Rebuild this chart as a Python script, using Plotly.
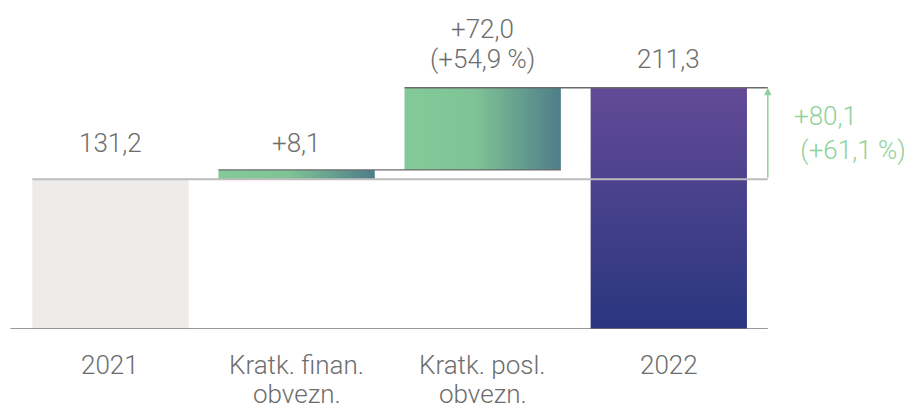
import plotly.graph_objects as go

# waterfall data (mio EUR)
categories = ["2021", "Kratk. finan.<br>obvezn.", "Kratk. posl.<br>obvezn.", "2022"]
values = [131.2, 8.1, 72.0, 211.3]
kinds = ["total", "delta", "delta", "total"]
labels = ["131,2", "+8,1", "+72,0<br>(+54,9 %)", "211,3"]
change_label = "+80,1<br> (+61,1 %)"

GREY_TXT = "#6d6d6d"
GREEN_TXT = "#8fd19a"
FONT = "Roboto"
FS = 26
LINE_H = 30  # line spacing for the stacked labels, px
W = 0.84  # bar width in category units
X_RIGHT = 3.532  # where the change arrow sits

# bottoms/tops of each bar
bases, tops = [], []
run = 0
for v, k in zip(values, kinds):
    if k == "total":
        bases.append(0)
        tops.append(v)
        run = v
    else:
        bases.append(run)
        run = run + v
        tops.append(run)

green = [[0, "#84ca98"], [0.45, "#7fc396"], [1, "#4e7d88"]]
fills = [
    dict(type="vertical", colorscale=[[0, "#edecea"], [1, "#edecea"]]),
    dict(type="horizontal", colorscale=green, start=1 - W / 2, stop=1 + W / 2),
    dict(type="horizontal", colorscale=green, start=2 - W / 2, stop=2 + W / 2),
    dict(type="vertical", colorscale=[[0, "#29367f"], [1, "#634a97"]],
         start=0, stop=values[3]),
]

fig = go.Figure()

for i in range(len(values)):
    x0, x1 = i - W / 2, i + W / 2
    fig.add_trace(go.Scatter(
        x=[x0, x1, x1, x0, x0],
        y=[bases[i], bases[i], tops[i], tops[i], bases[i]],
        mode="lines", fill="toself", fillgradient=fills[i],
        line=dict(width=0), hoverinfo="skip", showlegend=False))

# baseline
fig.add_trace(go.Scatter(x=[-0.538, X_RIGHT], y=[0, 0], mode="lines",
                         line=dict(color="#777777", width=1.3), showlegend=False, hoverinfo="skip"))
# 2021 level line (light grey, over the bars)
fig.add_trace(go.Scatter(x=[0 - W / 2, X_RIGHT], y=[tops[0], tops[0]], mode="lines",
                         line=dict(color="#bdbdbd", width=2), showlegend=False, hoverinfo="skip"))
# connectors
fig.add_trace(go.Scatter(x=[1 - W / 2, 2 + W / 2], y=[tops[1], tops[1]], mode="lines",
                         line=dict(color="#6a6a6a", width=1.3), showlegend=False, hoverinfo="skip"))
fig.add_trace(go.Scatter(x=[2 - W / 2, X_RIGHT], y=[tops[2], tops[2]], mode="lines",
                         line=dict(color="#6a6a6a", width=1.3), showlegend=False, hoverinfo="skip"))

font = dict(family=FONT, size=FS, color=GREY_TXT, weight=300)

# value labels above bars (each line separately, tighter spacing)
yshifts = [36, 27, 29, 29]
for i, lab in enumerate(labels):
    lines = lab.split("<br>")
    for j, ln in enumerate(reversed(lines)):
        fig.add_annotation(x=i, y=tops[i], text=ln, showarrow=False, yanchor="middle",
                           yshift=yshifts[i] + j * LINE_H, font=font)

# category labels under the baseline
for i, cat in enumerate(categories):
    for j, ln in enumerate(cat.split("<br>")):
        fig.add_annotation(x=i, y=0, xref="x", yref="paper", text=ln, showarrow=False,
                           yanchor="middle", yshift=-36 - j * 29, font=font)

# change arrow
fig.add_annotation(x=X_RIGHT, y=values[3], ax=X_RIGHT, ay=values[0], xref="x", yref="y",
                   axref="x", ayref="y", showarrow=True, arrowhead=2, arrowsize=1,
                   arrowwidth=1.5, arrowcolor=GREEN_TXT, text="")
fig.add_annotation(x=X_RIGHT, y=(values[0] + values[3]) / 2, text=change_label, showarrow=False,
                   xanchor="left", xshift=24, align="left",
                   font=dict(family=FONT, size=FS, color=GREEN_TXT, weight=300))

fig.update_xaxes(range=[-0.54, 3.56], showticklabels=False, ticks="",
                 showgrid=False, zeroline=False, showline=False, automargin=False)
fig.update_yaxes(range=[0, 240], visible=False, showgrid=False, zeroline=False)

# page body adds an 8px offset, so the figure is 8px smaller each way
fig.update_layout(
    width=905, height=400,
    margin=dict(l=2, r=140, t=47, b=79),
    plot_bgcolor="white", paper_bgcolor="white",
    showlegend=False,
)

fig.write_html("out.html")
